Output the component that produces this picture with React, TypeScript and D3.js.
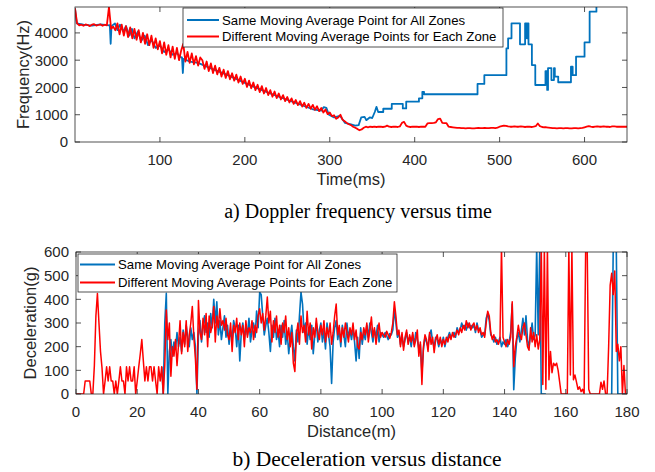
import React from "react";
import * as d3 from "d3";

// a) Doppler frequency (Hz). Red: different moving average points for each zone,
// one value every 2.5 ms starting at 0 ms
const freqStep = 2.5;
const freqDiff = [
  4900, 4350, 4280, 4300, 4260, 4310, 4290, 4250, 4300, 4320, 4270, 4290, 4310, 4260, 4300, 4280, 4950, 4150, 4230, 4100,
  4350, 3950, 4300, 3900, 4250, 3850, 4200, 3800, 4150, 3750, 4100, 3650, 4000, 3600, 3950, 3550, 3900, 3450, 3800, 3400,
  3700, 3250, 3650, 3200, 3550, 3100, 3500, 3050, 3450, 3000, 3350, 3600, 2950, 3300, 2900, 3250, 2850, 3150, 2800, 3100,
  3000, 2680, 2950, 2600, 2880, 2530, 2800, 2480, 2720, 2400, 2650, 2350, 2600, 2300, 2520, 2250, 2470, 2180, 2400, 2130,
  2320, 2020, 2250, 1970, 2180, 1900, 2100, 1830, 2050, 1780, 1980, 1720, 1900, 1660, 1850, 1610, 1780, 1560, 1720, 1500,
  1650, 1450, 1600, 1400, 1540, 1350, 1500, 1300, 1440, 1250, 1400, 1220, 1360, 1180, 1310, 1130, 1250, 1080, 1190, 1020,
  1080, 950, 980, 850, 900, 1000, 820, 760, 700, 650, 620, 560, 520, 480, 430, 460, 520, 560, 540, 560,
  550, 560, 550, 560, 560, 550, 560, 600, 560, 550, 560, 560, 550, 570, 700, 740, 600, 560, 550, 560,
  560, 560, 550, 560, 560, 560, 680, 690, 690, 700, 720, 840, 860, 700, 690, 690, 560, 550, 540, 530,
  520, 520, 510, 510, 500, 510, 510, 500, 500, 510, 520, 510, 510, 520, 510, 510, 520, 520, 510, 530,
  560, 580, 600, 590, 570, 560, 560, 570, 560, 560, 570, 560, 550, 560, 560, 550, 560, 580, 680, 580,
  550, 540, 540, 530, 520, 510, 510, 500, 510, 510, 500, 510, 510, 500, 500, 510, 510, 500, 510, 520,
  540, 560, 580, 560, 550, 560, 570, 560, 560, 570, 560, 560, 550, 570, 570, 560, 560, 560, 560, 560,
  560,
];

// Blue: same moving average point for all zones, [time ms, Hz]
const freqSame: [number, number][] = [
  [0, 4900], [2, 4350], [10, 4300], [20, 4270], [30, 4310], [40, 4280], [41, 4280], [42, 3600], [43, 4250],
  [47, 4350], [50, 4100], [53, 4300], [57, 4050], [60, 4250], [64, 3900], [67, 4150], [70, 3800], [74, 4050],
  [78, 3700], [82, 3900], [86, 3550], [90, 3750], [95, 3450], [100, 3550], [105, 3300], [110, 3400], [115, 3200],
  [120, 3250], [125, 3100], [126, 3100], [127, 2530], [128, 3050], [135, 2950], [145, 2900], [160, 2700],
  [180, 2450], [200, 2170], [220, 1900], [240, 1660], [260, 1430], [280, 1200], [290, 1150], [293, 1280],
  [296, 1250], [299, 1000], [305, 900], [312, 960], [318, 700], [325, 650], [330, 600], [334, 620], [337, 900],
  [341, 920], [343, 800], [347, 900], [350, 880], [353, 1100], [355, 1290], [357, 1100], [363, 1100],
  [363, 1220], [373, 1220], [373, 1400], [386, 1400], [386, 1230], [390, 1230], [390, 1480], [405, 1480],
  [405, 1600], [409, 1600], [409, 1840], [411, 1840], [411, 1750], [474, 1750], [474, 2130], [482, 2130],
  [482, 2450], [508, 2450], [508, 3430], [510, 3430], [510, 3800], [514, 3800], [514, 4350], [524, 4350],
  [524, 3580], [530, 3580], [530, 4350], [532, 4350], [532, 3800], [533, 3800], [533, 4350], [534, 4350],
  [534, 3580], [538, 3580], [538, 2820], [542, 2820], [542, 2090], [554, 2090], [554, 2600], [556, 2600],
  [556, 1910], [557, 1910], [557, 2710], [561, 2710], [561, 2270], [564, 2270], [564, 2710], [565, 2710],
  [565, 2400], [569, 2400], [569, 2190], [584, 2190], [584, 2760], [586, 2760], [586, 2450], [590, 2450],
  [590, 3130], [600, 3130], [600, 3650], [606, 3650], [606, 4780], [614, 4780], [614, 5300], [650, 5300],
];

// b) Deceleration (g), one value every 0.5 m
const decStep = 0.5;
const decDiff = [
  0, 0, 0, 0, 0, 0, 55, 55, 55, 55, 0, 0, 120, 330, 425, 300, 180, 110, 0, 55,
  115, 55, 115, 55, 55, 0, 55, 0, 55, 115, 55, 55, 0, 115, 55, 115, 55, 55, 115, 0,
  55, 115, 170, 230, 140, 55, 115, 55, 115, 115, 55, 115, 55, 0, 115, 55, 115, 0, 120, 355,
  230, 300, 75, 200, 160, 230, 120, 210, 310, 170, 260, 200, 310, 180, 250, 300, 370, 240, 150, 20,
  395, 260, 230, 320, 250, 340, 200, 330, 260, 290, 370, 220, 330, 280, 360, 290, 310, 270, 320, 250,
  230, 300, 180, 290, 260, 320, 230, 300, 250, 290, 200, 310, 240, 280, 260, 310, 230, 290, 260, 330,
  360, 300, 340, 270, 330, 410, 300, 350, 220, 310, 260, 330, 240, 290, 210, 300, 260, 330, 230, 280,
  200, 260, 130, 95, 250, 300, 210, 330, 260, 290, 220, 350, 250, 300, 190, 280, 240, 320, 260, 230,
  290, 250, 310, 220, 280, 240, 300, 210, 260, 330, 380, 250, 290, 220, 280, 240, 300, 260, 220, 280,
  250, 300, 230, 270, 200, 190, 260, 230, 280, 250, 300, 220, 270, 325, 240, 280, 210, 260, 300, 240,
  260, 250, 240, 265, 250, 235, 260, 300, 390, 330, 250, 270, 200, 260, 185, 240, 270, 210, 250, 220,
  260, 200, 230, 270, 160, 220, 40, 200, 250, 230, 180, 260, 210, 240, 175, 230, 250, 210, 240, 200,
  230, 210, 240, 220, 250, 230, 260, 240, 250, 270, 250, 280, 260, 290, 270, 310, 280, 300, 270, 290,
  300, 270, 290, 260, 280, 250, 260, 240, 300, 350, 330, 260, 230, 250, 220, 230, 210, 230, 620, 240,
  220, 200, 230, 210, 240, 390, 115, 200, 240, 290, 250, 230, 280, 300, 250, 200, 185, 280, 220, 260,
  200, 250, 190, 230, 620, 40, 620, 20, 620, 60, 180, 90, 130, 120, 130, 100, 50, 0, 0, 0,
  0, 0, 620, 80, 620, 60, 80, 50, 20, 30, 10, 20, 0, 620, 620, 20, 0, 0, 0, 0,
  0, 0, 0, 50, 20, 55, 0, 0, 200, 460, 510, 420, 520, 180, 210, 140, 200, 0, 120, 0,
  0,
];

const decSameStart = 28;
const decSame = [
  115, 0, 300, 425,
  0, 180, 230, 160, 220, 190, 260, 200, 240, 180, 270, 210, 290, 240, 200, 280, 230, 260, 200, 0,
  250, 310, 220, 290, 330, 260, 300, 240, 340, 280, 400, 300, 390, 250, 310, 230, 280, 330, 240, 290,
  210, 270, 230, 310, 280, 200, 290, 140, 260, 300, 230, 290, 250, 320, 220, 270, 300, 240, 350, 280,
  430, 420, 330, 250, 290, 320, 260, 180, 290, 240, 320, 230, 270, 200, 290, 240, 310, 210, 260, 170,
  240, 290, 200, 140, 270, 220, 330, 430, 380, 260, 300, 210, 280, 230, 290, 170, 250, 300, 220, 270,
  300, 220, 270, 190, 300, 250, 200, 45, 220, 280, 310, 230, 270, 200, 290, 250, 200, 300, 240, 270,
  230, 280, 220, 140, 240, 150, 280, 210, 260, 230, 290, 240, 300, 260, 220, 270, 240, 290, 220, 260,
  250, 240, 260, 245, 230, 255, 250, 270, 360, 300, 240, 260, 210, 250, 200, 230, 260, 220, 240, 200,
  250, 210, 260, 230, 190, 210, 90, 190, 240, 220, 200, 250, 270, 220, 200, 240, 230, 200, 230, 210,
  240, 200, 230, 240, 260, 240, 250, 260, 240, 280, 260, 270, 300, 280, 290, 270, 300, 280, 290, 280,
  290, 260, 300, 270, 270, 240, 250, 250, 320, 340, 310, 250, 240, 220, 240, 210, 220, 240, 200, 220,
  210, 230, 200, 220, 260, 380, 18, 150, 230, 260, 220, 270, 320, 250, 330, 230, 200, 250, 300, 230,
  250, 620, 250, 620, 0, 0, 0, 0,
];
const decSameTail: [number, number][] = [[175, 0], [175.5, 620], [176.5, 620], [177, 0], [180, 0]];

const timeTicks = [100, 200, 300, 400, 500, 600];
const freqTicks = [0, 1000, 2000, 3000, 4000];
const distTicks = [0, 20, 40, 60, 80, 100, 120, 140, 160, 180];
const decTicks = [0, 100, 200, 300, 400, 500, 600];

const seriesNames = [
  "Same Moving Average Point for All Zones",
  "Different Moving Average Points for Each Zone",
];
const BLUE = "#0072BD";
const RED = "#FF0000";
const AXIS = "#262626";
const SANS = "'Liberation Sans', Arial, sans-serif";
const SERIF = "'Liberation Serif', 'Times New Roman', serif";

type Pt = [number, number];
type Scale = d3.ScaleLinear<number, number>;

function Panel({ id, x, y, xTicks, yTicks, xLabel, yLabel, yLabelX, lines, legend }: {
  id: string; x: Scale; y: Scale; xTicks: number[]; yTicks: number[];
  xLabel: string; yLabel: string; yLabelX: number;
  lines: { pts: Pt[]; color: string; width: number }[];
  legend: { x: number; y: number; w: number; h: number; rows: number[]; x0: number; x1: number; tx: number };
}) {
  const [left, right] = x.range();
  const [bottom, top] = y.range();
  const line = d3.line<Pt>().x((d) => x(d[0])).y((d) => y(d[1]));
  const tk = 5;

  return (
    <g>
      <defs>
        <clipPath id={id}>
          <rect x={left} y={top} width={right - left} height={bottom - top} />
        </clipPath>
      </defs>
      <rect x={left} y={top} width={right - left} height={bottom - top} fill="#fff" />
      <g clipPath={`url(#${id})`}>
        {lines.map((l, i) => (
          <path key={i} d={line(l.pts) || ""} fill="none" stroke={l.color}
            strokeWidth={l.width} strokeLinejoin="round" />
        ))}
      </g>
      <rect x={left} y={top} width={right - left} height={bottom - top}
        fill="none" stroke={AXIS} strokeWidth={0.8} />
      {xTicks.map((t) => (
        <g key={"x" + t}>
          <line x1={x(t)} x2={x(t)} y1={bottom} y2={bottom - tk} stroke={AXIS} strokeWidth={0.8} />
          <line x1={x(t)} x2={x(t)} y1={top} y2={top + tk} stroke={AXIS} strokeWidth={0.8} />
          <text x={x(t)} y={bottom + 23} textAnchor="middle" fontSize={15}
            fontFamily={SANS} fill={AXIS}>{t}</text>
        </g>
      ))}
      {yTicks.map((t) => (
        <g key={"y" + t}>
          <line x1={left} x2={left + tk} y1={y(t)} y2={y(t)} stroke={AXIS} strokeWidth={0.8} />
          <line x1={right} x2={right - tk} y1={y(t)} y2={y(t)} stroke={AXIS} strokeWidth={0.8} />
          <text x={left - 7} y={y(t)} dy="0.36em" textAnchor="end" fontSize={15}
            fontFamily={SANS} fill={AXIS}>{t}</text>
        </g>
      ))}
      <text x={(left + right) / 2} y={bottom + 43} textAnchor="middle" fontSize={16.5}
        fontFamily={SANS} fill={AXIS}>{xLabel}</text>
      <text transform={`translate(${yLabelX},${(top + bottom) / 2}) rotate(-90)`}
        textAnchor="middle" fontSize={16.5} fontFamily={SANS} fill={AXIS}>{yLabel}</text>

      <rect x={legend.x} y={legend.y} width={legend.w} height={legend.h}
        fill="#fff" stroke={AXIS} strokeWidth={0.8} />
      {seriesNames.map((name, i) => (
        <g key={name}>
          <line x1={legend.x0} x2={legend.x1} y1={legend.rows[i]} y2={legend.rows[i]}
            stroke={i === 0 ? BLUE : RED} strokeWidth={2} />
          <text x={legend.tx} y={legend.rows[i]} dy="0.36em" fontSize={13.2}
            fontFamily={SANS} fill="#000">{name}</text>
        </g>
      ))}
    </g>
  );
}

export default function App() {
  const W = 655, H = 472;

  const freqX = d3.scaleLinear().domain([0, 650]).range([75, 627]);
  const freqY = d3.scaleLinear().domain([0, 4950]).range([142, 7]);
  const decX = d3.scaleLinear().domain([0, 180]).range([76, 627]);
  const decY = d3.scaleLinear().domain([0, 600]).range([394, 252]);

  const redFreq: Pt[] = freqDiff.map((v, i) => [i * freqStep, v]);
  const redDec: Pt[] = decDiff.map((v, i) => [i * decStep, v]);
  const blueDec: Pt[] = decSame.map((v, i) => [decSameStart + i * decStep, v]);

  return (
    <svg width={W} height={H} style={{ position: "absolute", left: 0, top: 0, background: "#fff" }}>
      <Panel id="clipA" x={freqX} y={freqY} xTicks={timeTicks} yTicks={freqTicks}
        xLabel="Time(ms)" yLabel="Frequency(Hz)" yLabelX={28.5}
        lines={[
          { pts: freqSame, color: BLUE, width: 1.8 },
          { pts: redFreq, color: RED, width: 1.8 },
        ]}
        legend={{ x: 183, y: 8, w: 320, h: 39, rows: [20, 36.5], x0: 187, x1: 219, tx: 222 }} />
      <text x={358} y={217.5} textAnchor="middle" fontSize={20} fontFamily={SERIF} fill="#000">
        a) Doppler frequency versus time
      </text>

      <Panel id="clipB" x={decX} y={decY} xTicks={distTicks} yTicks={decTicks}
        xLabel="Distance(m)" yLabel="Deceleration(g)" yLabelX={36}
        lines={[
          { pts: blueDec, color: BLUE, width: 1.6 },
          { pts: decSameTail, color: BLUE, width: 1.6 },
          { pts: redDec, color: RED, width: 1.5 },
        ]}
        legend={{ x: 78, y: 254, w: 319, h: 38, rows: [264.5, 282.5], x0: 80, x1: 115, tx: 118 }} />
      <text x={367} y={466} textAnchor="middle" fontSize={21.5} fontFamily={SERIF} fill="#000">
        b) Deceleration versus distance
      </text>
    </svg>
  );
}
